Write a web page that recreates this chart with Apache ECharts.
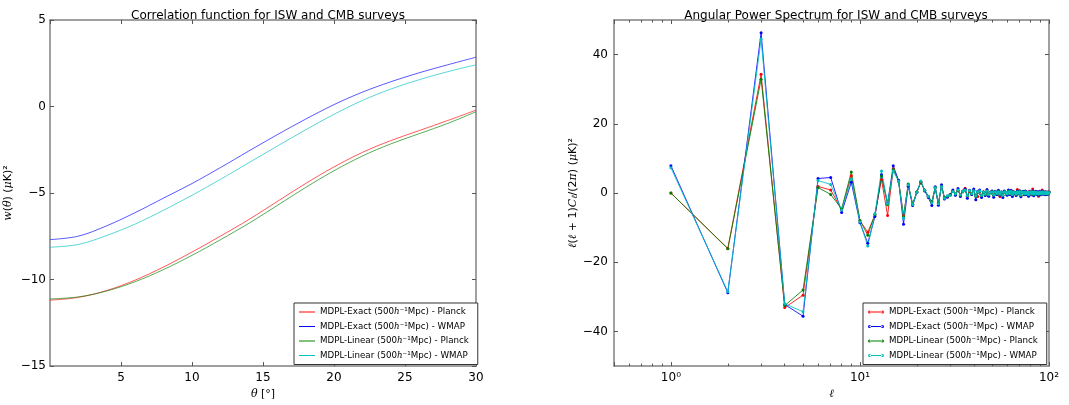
<!DOCTYPE html>
<html>
<head>
<meta charset="utf-8">
<script src="https://cdn.jsdelivr.net/npm/echarts@6/dist/echarts.min.js"></script>
<style>
html,body{margin:0;padding:0;background:#fff}
#chart{width:1069px;height:405px}
</style>
</head>
<body>
<div id="chart"></div>
<script>
// ---- Correlation function w(theta) in (uK)^2 ----
const theta = [0, 2, 4, 6, 8, 10, 12, 14, 16, 18, 20, 22, 24, 26, 28, 30];
const wExactPlanck  = [-11.19, -11.03, -10.63, -10.03, -9.27, -8.41, -7.49, -6.53, -5.49, -4.45, -3.49, -2.65, -1.97, -1.39, -0.81, -0.21];
const wExactWmap    = [-7.69, -7.49, -6.89, -6.13, -5.29, -4.45, -3.53, -2.57, -1.63, -0.73, 0.11, 0.83, 1.43, 1.95, 2.41, 2.85];
const wLinearPlanck = [-11.12, -11.0, -10.66, -10.12, -9.42, -8.6, -7.7, -6.75, -5.72, -4.68, -3.71, -2.86, -2.16, -1.57, -0.98, -0.3];
const wLinearWmap   = [-8.13, -7.97, -7.45, -6.79, -5.99, -5.13, -4.21, -3.25, -2.29, -1.35, -0.45, 0.35, 1.01, 1.55, 2.01, 2.41];

// ---- Angular power spectrum l(l+1)C_l/(2pi), multipoles 1..100 ----
const ell = [1,2,3,4,5,6,7,8,9,10,11,12,13,14,15,16,17,18,19,20,
  21,22,23,24,25,26,27,28,29,30,31,32,33,34,35,36,37,38,39,40,
  41,42,43,44,45,46,47,48,49,50,51,52,53,54,55,56,57,58,59,60,
  61,62,63,64,65,66,67,68,69,70,71,72,73,74,75,76,77,78,79,80,
  81,82,83,84,85,86,87,88,89,90,91,92,93,94,95,96,97,98,99,100];
const clExactPlanck = [0, -16.0, 34.3, -33.1, -29.5, 1.9, 0.9, -4.8, 5.0, -8.0,
  -11.3, -6.3, 3.9, -6.5, 7.0, 3.6, -6.5, 2.4, -3.4, 0.3,
  3.1, 0.8, -1.0, -2.6, 1.5, -3.0, 2.0, -1.4, -1.0, -0.6,
  0.6, -0.5, 0.7, -0.4, 0.6, 1.4, -0.9, 0.4, -0.3, 0.8,
  -0.8, -1.0, 0.6, -0.6, 0.4, -0.3, 0.5, -0.7, 0.3, 0.5,
  -0.5, 0.2, -0.4, 0.6, -1.0, 0.3, -0.6, 0.5, 0.0, -0.2,
  0.4, -0.4, 0.7, -0.4, 0.2, 0.2, -0.5, 1.0, -0.2, 0.4,
  -0.7, 0.3, 0.2, -0.2, 0.5, -0.3, 0.2, -0.4, 0.5, 0.1,
  -0.4, 1.2, -0.3, 0.2, 0.2, -0.3, 0.3, -0.9, 0.2, 0.1,
  -0.2, 0.9, -0.2, 0.3, -0.4, 0.2, -0.1, 0.3, -0.3, 0.3];
const clExactWmap = [7.9, -28.8, 46.3, -32.2, -35.6, 4.2, 4.5, -5.6, 3.1, -8.6,
  -14.5, -6.8, 5.3, -3.0, 7.9, 3.7, -9.0, 2.0, -3.6, 0.2,
  3.3, 0.6, -1.3, -3.6, 1.8, -3.5, 2.4, -1.7, -1.2, -0.4,
  0.9, -0.6, 1.3, -1.0, 0.5, 1.2, -1.5, 0.8, -0.4, 1.2,
  -1.9, 0.5, 0.9, -1.3, 0.3, -0.7, 1.0, -0.9, 0.2, 0.6,
  -1.2, 0.5, -0.4, 0.8, -0.6, 0.3, -1.3, 0.6, 0.2, -0.6,
  0.9, -0.4, 0.8, -1.0, 0.4, -0.1, -0.7, 0.6, -0.2, 0.7,
  -1.1, 0.3, 0.5, -0.5, 0.6, -0.4, 0.2, -0.9, 0.4, 0.3,
  -0.5, 0.6, -0.8, 0.2, 0.5, -0.4, 0.3, -0.6, 0.5, -0.1,
  -0.5, 0.6, -0.2, 0.3, -0.5, 0.4, -0.4, 0.2, -0.3, 0.3];
const clLinearPlanck = [0, -16.1, 32.9, -32.5, -28.0, 1.6, -0.4, -4.6, 6.1, -7.9,
  -12.2, -6.2, 4.9, -3.4, 6.8, 3.4, -6.8, 2.6, -3.2, 0.4,
  3.2, 0.9, -0.9, -2.5, 1.6, -2.9, 1.9, -1.3, -0.9, -0.5,
  0.5, -0.3, 0.8, -0.6, 0.4, 0.9, -0.8, 0.6, -0.2, 0.7,
  -0.9, 0.3, 0.5, -0.7, 0.2, -0.4, 0.6, -0.5, 0.1, 0.4,
  -0.6, 0.3, -0.2, 0.5, -0.4, 0.2, -0.7, 0.4, 0.1, -0.3,
  0.5, -0.2, 0.6, -0.5, 0.3, 0.0, -0.4, 0.4, -0.1, 0.5,
  -0.6, 0.2, 0.3, -0.3, 0.4, -0.2, 0.1, -0.5, 0.3, 0.2,
  -0.3, 0.4, -0.4, 0.1, 0.3, -0.2, 0.2, -0.4, 0.3, 0.0,
  -0.3, 0.4, -0.1, 0.2, -0.3, 0.3, -0.2, 0.1, -0.2, 0.2];
const clLinearWmap = [7.3, -28.5, 44.5, -32.0, -34.3, 3.6, 2.5, -4.9, 4.0, -8.4,
  -15.3, -6.0, 6.4, -3.0, 6.4, 3.5, -7.2, 2.3, -3.3, 0.2,
  3.5, 0.8, -1.0, -2.8, 1.5, -3.1, 1.8, -1.5, -0.8, -0.7,
  0.4, -0.2, 0.9, -0.5, 0.5, 0.8, -0.7, 0.7, -0.1, 0.6,
  -0.8, 0.4, 0.6, -0.6, 0.3, -0.3, 0.5, -0.4, 0.2, 0.3,
  -0.5, 0.4, -0.1, 0.4, -0.3, 0.3, -0.6, 0.3, 0.2, -0.2,
  0.4, -0.1, 0.5, -0.4, 0.2, 0.1, -0.3, 0.3, 0.0, 0.4,
  -0.5, 0.3, 0.2, -0.2, 0.3, -0.1, 0.2, -0.4, 0.2, 0.3,
  -0.2, 0.3, -0.3, 0.2, 0.2, -0.1, 0.1, -0.3, 0.2, 0.1,
  -0.2, 0.3, 0.0, 0.1, -0.2, 0.2, -0.1, 0.2, -0.1, 0.1];
const clTicksY = [-40, -20, 0, 20, 40];

// Legend captions
const seriesLabels = [
  'MDPL-Exact (500{i|h}\u207B\u00B9Mpc) - Planck',
  'MDPL-Exact (500{i|h}\u207B\u00B9Mpc) - WMAP',
  'MDPL-Linear (500{i|h}\u207B\u00B9Mpc) - Planck',
  'MDPL-Linear (500{i|h}\u207B\u00B9Mpc) - WMAP'
];
const colors = ['#ff0000', '#0000ff', '#008000', '#00bfbf'];

const FONT = 'DejaVu Sans';
const MATH = 'DejaVu Serif';
const FRAME = '#808080';
const TICK = '#555';

const pairs = (xs, ys) => xs.map((x, i) => [x, ys[i]]);
const minus = v => String(v).replace('-', '\u2212');
const sup = ['\u2070', '\u00B9', '\u00B2'];
const logLabel = v => {
  const p = Math.log10(v);
  const r = Math.round(p);
  return Math.abs(p - r) < 1e-6 && r >= 0 ? '10' + sup[r] : '';
};

const leftKeys = ['l1', 'l2', 'l3', 'l4'];
const rightKeys = ['r1', 'r2', 'r3', 'r4'];
const labelOf = {};
leftKeys.forEach((k, i) => labelOf[k] = seriesLabels[i]);
rightKeys.forEach((k, i) => labelOf[k] = seriesLabels[i]);

const lineIcon = 'path://M0,0M16,10M0,4.5L16,4.5L16,5.5L0,5.5Z';
const dotLineIcon = 'path://M0,0M16,10M1.5,4.5L14.5,4.5L14.5,5.5L1.5,5.5Z' +
  'M0,5A1.5,1.5,0,1,0,3,5A1.5,1.5,0,1,0,0,5Z' +
  'M13,5A1.5,1.5,0,1,0,16,5A1.5,1.5,0,1,0,13,5Z';

// Axis frame lines and inward-pointing ticks on every side
const frameLine = () => ({ show: true, onZero: false, lineStyle: { color: FRAME, width: 1.5 } });
const tickInside = len => ({ show: true, inside: true, length: len, lineStyle: { color: TICK, width: 1 } });
const minorInside = () => ({ show: true, splitNumber: 9, length: 2.5, lineStyle: { color: TICK, width: 1 } });
const labelStyle = { color: '#000', fontSize: 12, fontFamily: FONT };
const nameStyle = {
  color: '#000', fontSize: 11, fontFamily: FONT,
  rich: {
    i: { fontStyle: 'italic', fontFamily: MATH, fontSize: 11, color: '#000' },
    s: { fontStyle: 'italic', fontFamily: MATH, fontSize: 8, color: '#000', verticalAlign: 'bottom' }
  }
};
const legendText = {
  color: '#000', fontSize: 8.7, fontFamily: FONT,
  rich: { i: { fontStyle: 'italic', fontFamily: MATH, fontSize: 8.7, color: '#000' } }
};
const titleStyle = { fontSize: 12, fontWeight: 'normal', fontFamily: FONT, color: '#000' };

const leftData = [wExactPlanck, wExactWmap, wLinearPlanck, wLinearWmap];
const rightData = [clExactPlanck, clExactWmap, clLinearPlanck, clLinearWmap];

const series = [];
leftData.forEach((ys, i) => series.push({
  type: 'line', name: leftKeys[i], xAxisIndex: 0, yAxisIndex: 0,
  data: pairs(theta, ys), smooth: 0.35,
  symbol: 'none', showSymbol: false,
  lineStyle: { color: colors[i], width: 1, opacity: 0.65 }, itemStyle: { color: colors[i] }
}));
rightData.forEach((ys, i) => series.push({
  type: 'line', name: rightKeys[i], xAxisIndex: 2, yAxisIndex: 2,
  data: pairs(ell, ys), symbol: 'circle', symbolSize: 3, showSymbol: true,
  lineStyle: { color: colors[i], width: 1, opacity: 0.85 }, itemStyle: { color: colors[i], borderWidth: 0 }
}));

const legendBase = () => ({
  top: 303, orient: 'vertical', selectedMode: false,
  formatter: k => labelOf[k], textStyle: legendText,
  itemWidth: 16, itemHeight: 11, itemGap: 4.5, padding: [4, 9, 4, 5],
  itemStyle: { borderWidth: 0 },
  borderColor: '#333', borderWidth: 1, borderRadius: 0, backgroundColor: '#fff'
});

const option = {
  animation: false,
  backgroundColor: '#fff',
  title: [
    { text: 'Correlation function for ISW and CMB surveys', left: 263, textAlign: 'center', top: 5, textStyle: titleStyle },
    { text: 'Angular Power Spectrum for ISW and CMB surveys', left: 831, textAlign: 'center', top: 5, textStyle: titleStyle }
  ],
  grid: [
    { left: 50, top: 20, width: 426, height: 352, show: false },
    { left: 614, top: 20, width: 435, height: 352, show: false }
  ],
  xAxis: [
    { type: 'value', gridIndex: 0, position: 'bottom', min: 0, max: 30, interval: 5,
      axisLine: frameLine(), splitLine: { show: false }, axisTick: tickInside(4),
      axisLabel: Object.assign({ showMinLabel: false, margin: 6 }, labelStyle),
      name: '{i|\u03B8} [\u00B0]', nameLocation: 'middle', nameGap: 22, nameTextStyle: nameStyle },
    { type: 'value', gridIndex: 0, position: 'top', min: 0, max: 30, interval: 5,
      axisLine: frameLine(), splitLine: { show: false }, axisTick: tickInside(4),
      axisLabel: { show: false } },
    { type: 'log', gridIndex: 1, position: 'bottom', min: 0.5, max: 100, logBase: 10,
      axisLine: frameLine(), splitLine: { show: false }, axisTick: tickInside(4), minorTick: minorInside(),
      axisLabel: Object.assign({ formatter: logLabel, margin: 6 }, labelStyle),
      name: '{i|\u2113}', nameLocation: 'middle', nameGap: 22, nameTextStyle: nameStyle },
    { type: 'log', gridIndex: 1, position: 'top', min: 0.5, max: 100, logBase: 10,
      axisLine: frameLine(), splitLine: { show: false }, axisTick: tickInside(4), minorTick: minorInside(),
      axisLabel: { show: false } }
  ],
  yAxis: [
    { type: 'value', gridIndex: 0, position: 'left', min: -15, max: 5, interval: 5,
      axisLine: frameLine(), splitLine: { show: false }, axisTick: tickInside(4),
      axisLabel: Object.assign({ formatter: minus, margin: 4 }, labelStyle),
      name: '{i|w}({i|\u03B8}) ({i|\u03BC}K)\u00B2', nameLocation: 'middle', nameGap: 36, nameTextStyle: nameStyle },
    { type: 'value', gridIndex: 0, position: 'right', min: -15, max: 5, interval: 5,
      axisLine: frameLine(), splitLine: { show: false }, axisTick: tickInside(4),
      axisLabel: { show: false } },
    { type: 'value', gridIndex: 1, position: 'left', min: -50, max: 50, interval: 10,
      axisLine: frameLine(), splitLine: { show: false },
      axisTick: Object.assign(tickInside(4), { customValues: clTicksY }),
      axisLabel: Object.assign({ formatter: minus, margin: 6, customValues: clTicksY }, labelStyle),
      name: '{i|\u2113}({i|\u2113} + 1){i|C}{s|\u2113}/(2{i|\u03C0}) ({i|\u03BC}K)\u00B2',
      nameLocation: 'middle', nameGap: 33, nameTextStyle: nameStyle },
    { type: 'value', gridIndex: 1, position: 'right', min: -50, max: 50, interval: 10,
      axisLine: frameLine(), splitLine: { show: false },
      axisTick: Object.assign(tickInside(4), { customValues: clTicksY }),
      axisLabel: { show: false } }
  ],
  legend: [
    Object.assign({ left: 294, data: leftKeys.map(k => ({ name: k, icon: lineIcon })) }, legendBase()),
    Object.assign({ left: 863, data: rightKeys.map(k => ({ name: k, icon: dotLineIcon })) }, legendBase())
  ],
  series: series
};

const chart = echarts.init(document.getElementById('chart'), null, { renderer: 'canvas' });
chart.setOption(option);
</script>
</body>
</html>
